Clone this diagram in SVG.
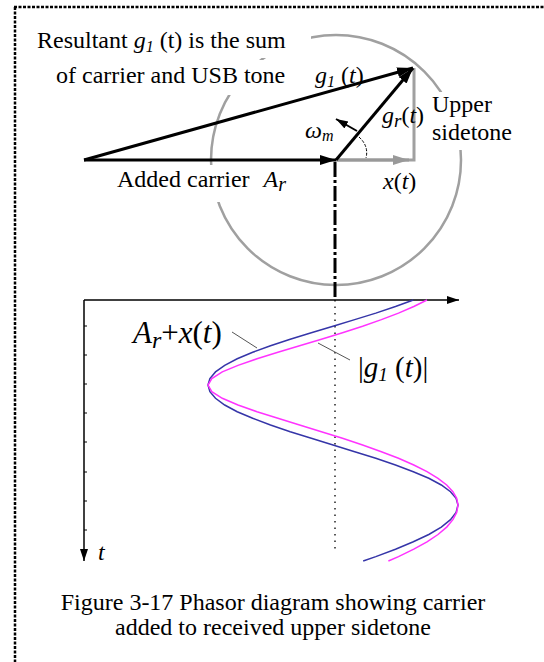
<svg xmlns="http://www.w3.org/2000/svg" width="544" height="662" viewBox="0 0 544 662" font-family="'Liberation Serif', 'Times New Roman', serif">
<defs>
<style>
text{font-family:"Liberation Serif","Times New Roman",serif;fill:#000}
.it{font-style:italic}
.t24{font-size:24px}
.vec{stroke:#000;stroke-width:3;fill:none}
.grey{stroke:#a0a0a0;stroke-width:3;fill:none}
.ax{stroke:#000;stroke-width:1.5;fill:none}
.lead{stroke:#555;stroke-width:1;fill:none}
</style>
<marker id="ah" markerUnits="userSpaceOnUse" markerWidth="18" markerHeight="12" refX="16" refY="5" orient="auto">
<path d="M0,0 L16,5 L0,10 Z" fill="#000"/>
</marker>
<marker id="ahg" markerUnits="userSpaceOnUse" markerWidth="18" markerHeight="12" refX="16" refY="5" orient="auto">
<path d="M0,0 L16,5 L0,10 Z" fill="#999"/>
</marker>
<marker id="ahs" markerUnits="userSpaceOnUse" markerWidth="14" markerHeight="10" refX="12" refY="4" orient="auto">
<path d="M0,0 L12,4 L0,8 Z" fill="#000"/>
</marker>
</defs>
<rect width="544" height="662" fill="#fff"/>
<!-- dotted frame -->
<g id="frame" stroke="#000" stroke-width="2.5" stroke-dasharray="3 1.5">
<line x1="14" y1="7" x2="544" y2="7"/>
<line x1="15" y1="7" x2="15" y2="662"/>
</g>
<!-- locus circle -->
<g id="circle">
<circle cx="336" cy="160" r="125" fill="none" stroke="#a0a0a0" stroke-width="2.5"/>
<rect x="30" y="28" width="281" height="30" fill="#fff"/>
<rect x="50" y="60" width="246" height="35" fill="#fff"/>
<rect x="110" y="165" width="196" height="37" fill="#fff"/>
<rect x="428" y="92" width="90" height="58" fill="#fff"/>
</g>
<!-- connectors / phasors -->
<g id="connectors">
<polyline class="grey" points="336,160 414,160 414,68"/>
<line x1="336" y1="160" x2="409" y2="160" stroke="#999" stroke-width="3" marker-end="url(#ahg)"/>
<line class="vec" x1="84" y1="160" x2="336" y2="160" marker-end="url(#ah)"/>
<line class="vec" x1="84" y1="160" x2="413" y2="68" marker-end="url(#ah)"/>
<line class="vec" x1="336" y1="160" x2="413" y2="68" marker-end="url(#ah)"/>
<line x1="357" y1="131" x2="336" y2="119" stroke="#000" stroke-width="2" marker-end="url(#ahs)"/>
<path d="M359,137 Q369,146 366,158" fill="none" stroke="#000" stroke-width="1" stroke-dasharray="3 1.5"/>
<line x1="335" y1="162" x2="335" y2="300" stroke="#000" stroke-width="3" stroke-dasharray="15 3 3 3"/>
<line x1="335" y1="300" x2="335" y2="549" stroke="#000" stroke-width="1.3" stroke-dasharray="1.5 5"/>
<line class="lead" x1="232" y1="332" x2="257" y2="348"/>
<line class="lead" x1="318" y1="343" x2="350" y2="360"/>
</g>
<!-- axes -->
<g id="axes">
<line class="ax" x1="84" y1="300" x2="459" y2="300" marker-end="url(#ahs)"/>
<line class="ax" x1="84" y1="300" x2="84" y2="561" marker-end="url(#ahs)"/>
<g stroke="#000" stroke-width="1">
<line x1="84" y1="326" x2="87" y2="326"/><line x1="84" y1="355" x2="87" y2="355"/>
<line x1="84" y1="384" x2="87" y2="384"/><line x1="84" y1="413" x2="87" y2="413"/>
<line x1="84" y1="442" x2="87" y2="442"/><line x1="84" y1="472" x2="87" y2="472"/>
<line x1="84" y1="501" x2="87" y2="501"/><line x1="84" y1="530" x2="87" y2="530"/>
</g>
</g>
<!-- curves -->
<g id="curve-envelope">
<polyline fill="none" stroke="#3535a8" stroke-width="1.5" points="413.3,300 395.5,306.5 375.8,313.1 354.7,319.6 333,326.2 311.3,332.7 290.2,339.2 270.5,345.8 252.7,352.3 237.2,358.8 224.7,365.4 215.5,371.9 209.9,378.5 208,385 209.9,391.7 215.5,398.3 224.7,405 237.2,411.7 252.7,418.3 270.5,425 290.2,431.7 311.3,438.3 333,445 354.7,451.7 375.8,458.3 395.5,465 413.3,471.7 428.8,478.3 441.3,485 450.5,491.7 456.1,498.3 458,505 456.1,512.4 450.5,519.7 441.3,527.1 428.8,534.5 413.3,541.8 395.5,549.2 375.8,556.6 363.2,561"/>
</g>
<g id="curve-magnitude">
<polyline fill="none" stroke="#ff33ff" stroke-width="1.5" points="427,300 413.8,306.5 398.5,313.1 381.4,319.6 362.6,326.2 342.5,332.7 321.4,339.2 299.6,345.8 277.9,352.3 257,358.8 238,365.4 222.3,371.9 211.8,378.5 208,385 211.8,391.7 222.3,398.3 238,405 257,411.7 277.9,418.3 299.6,425 321.4,431.7 342.5,438.3 362.6,445 381.4,451.7 398.5,458.3 413.8,465 427,471.7 438,478.3 446.7,485 452.9,491.7 456.7,498.3 458,505 456.7,512.4 452.9,519.7 446.7,527.1 438,534.5 427,541.8 413.8,549.2 398.5,556.6 388.4,561"/>
</g>
<!-- labels -->
<g id="label-resultant" class="t24">
<text x="37" y="48">Resultant <tspan class="it">g</tspan><tspan class="it" font-size="16" dy="4">1</tspan><tspan dy="-4"> (t) is the sum</tspan></text>
<text x="56" y="83">of carrier and USB tone</text>
</g>
<g id="label-g1" class="t24">
<text x="315" y="83"><tspan class="it">g</tspan><tspan class="it" font-size="16" dy="4">1</tspan><tspan dy="-4"> (</tspan><tspan class="it">t</tspan>)</text>
</g>
<g id="label-gr" class="t24">
<text x="382" y="123"><tspan class="it">g</tspan><tspan class="it" font-size="19" dy="4">r</tspan><tspan dy="-4">(</tspan><tspan class="it">t</tspan>)</text>
</g>
<g id="label-upper" class="t24">
<text x="432" y="112">Upper</text>
<text x="432" y="140">sidetone</text>
</g>
<g id="label-omega" class="t24">
<text x="305" y="138" class="it">ω<tspan font-size="16" dy="3">m</tspan></text>
</g>
<g id="label-carrier" class="t24">
<text x="117" y="187">Added carrier <tspan class="it" dx="8">A</tspan><tspan class="it" font-size="20" dy="4">r</tspan></text>
</g>
<g id="label-x" class="t24">
<text x="383" y="189"><tspan class="it">x</tspan>(<tspan class="it">t</tspan>)</text>
</g>
<g id="label-arx">
<text x="133" y="343" font-size="31"><tspan class="it">A</tspan><tspan class="it" font-size="24" dy="5">r</tspan><tspan dy="-5">+</tspan><tspan class="it">x</tspan>(<tspan class="it">t</tspan>)</text>
</g>
<g id="label-absg1">
<text x="358" y="377" font-size="29">|<tspan class="it">g</tspan><tspan class="it" font-size="19" dy="4">1</tspan><tspan dy="-4"> (</tspan><tspan class="it">t</tspan>)|</text>
</g>
<g id="label-t">
<text x="98" y="560" font-size="24" class="it">t</text>
</g>
<g id="caption" font-size="24">
<text x="273" y="610" text-anchor="middle">Figure 3-17 Phasor diagram showing carrier</text>
<text x="273" y="635" text-anchor="middle">added to received upper sidetone</text>
</g>
</svg>
